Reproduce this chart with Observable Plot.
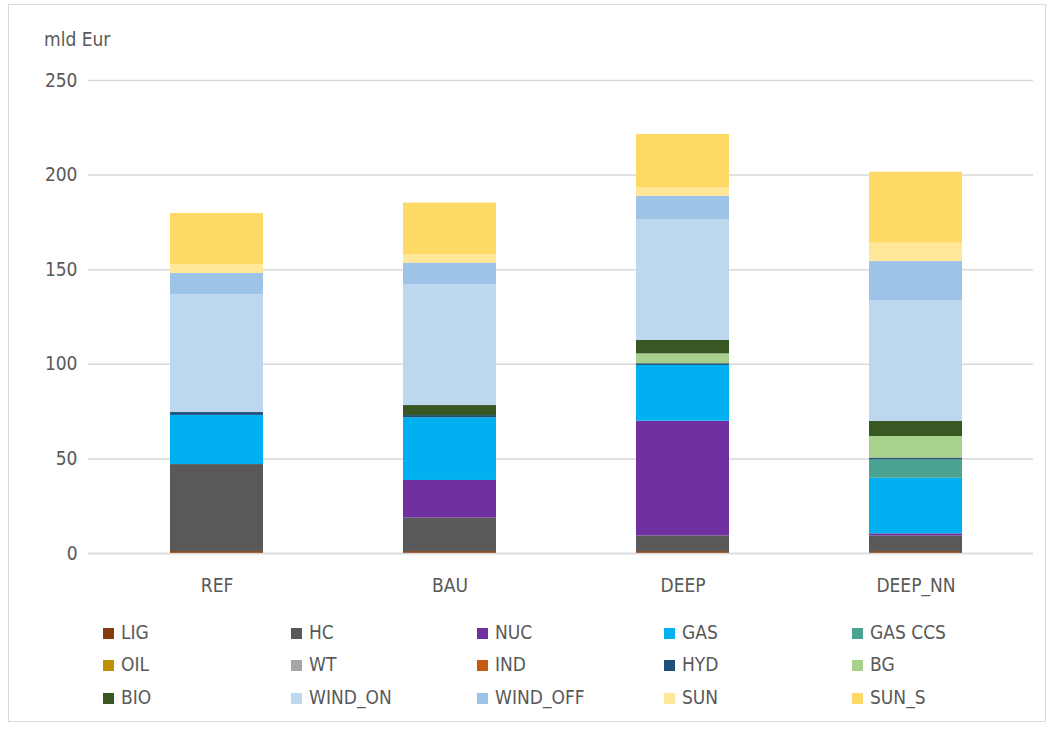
<!DOCTYPE html>
<html><head><meta charset="utf-8">
<script src="https://cdn.jsdelivr.net/npm/d3@7"></script>
<script src="https://cdn.jsdelivr.net/npm/@observablehq/plot@0.6"></script>
<style>
body{margin:0;background:#fff;font-family:"Liberation Sans Narrow","DejaVu Sans Condensed",sans-serif;}
#frame{position:absolute;left:8px;top:4px;width:1038px;height:718px;border:1px solid #d9d9d9;box-sizing:border-box;}
#chart{position:absolute;left:0;top:0;}
#unit{position:absolute;left:44px;top:28px;font-size:19px;color:#595959;}
.leg{position:absolute;font-size:19px;color:#595959;line-height:20px;white-space:nowrap;}
.leg span{display:inline-block;width:11px;height:11px;margin-right:7px;vertical-align:0px;}
</style></head>
<body>
<div id="frame"></div>
<div id="chart"></div>
<div id="unit">mld Eur</div>
<div id="legend"></div>
<script>
const scenarios = ["REF", "BAU", "DEEP", "DEEP_NN"];
const categories = ["LIG","HC","NUC","GAS","GAS CCS","OIL","WT","IND","HYD","BG","BIO","WIND_ON","WIND_OFF","SUN","SUN_S"];
const colors = ["#843C0C","#595959","#7030A0","#00B0F0","#4AA391","#BF9000","#A5A5A5","#C55A11","#1F4E79","#A9D18E","#385723","#BDD7EE","#9DC3E6","#FFE699","#FFD966"];
// values per category, in scenario order
const LIG      = [1.0, 1.0, 1.0, 1.0];
const HC       = [46.0, 17.7, 8.3, 8.3];
const NUC      = [0, 19.9, 60.6, 1.1];
const GAS      = [26.0, 33.1, 29.5, 29.4];
const GAS_CCS  = [0, 0, 0, 9.7];
const OIL      = [0, 0, 0, 0];
const WT       = [0, 0, 0, 0];
const IND      = [0, 0, 0, 0];
const HYD      = [1.5, 1.2, 0.9, 0.9];
const BG       = [0, 0, 5.2, 11.4];
const BIO      = [0, 5.3, 7.1, 8.0];
const WIND_ON  = [62.2, 64.0, 63.9, 63.9];
const WIND_OFF = [11.3, 11.2, 12.3, 20.6];
const SUN      = [4.5, 4.6, 4.4, 9.7];
const SUN_S    = [27.2, 27.2, 28.3, 37.5];
const yTicks = [0, 50, 100, 150, 200, 250];

const series = [LIG, HC, NUC, GAS, GAS_CCS, OIL, WT, IND, HYD, BG, BIO, WIND_ON, WIND_OFF, SUN, SUN_S];
const data = [];
categories.forEach((c, i) => scenarios.forEach((s, j) => data.push({scenario: s, category: c, value: series[i][j]})));

const plot = Plot.plot({
  width: 1048, height: 610,
  marginTop: 80, marginBottom: 57, marginLeft: 88, marginRight: 15,
  style: {fontFamily: "'Liberation Sans Narrow','DejaVu Sans Condensed',sans-serif", fontSize: "19px", color: "#595959", background: "transparent"},
  x: {domain: scenarios, range: [99, 1033], paddingInner: 0.6, paddingOuter: 0.3, label: null, tickSize: 0, tickPadding: 25},
  y: {domain: [0, 250], ticks: yTicks, label: null, tickSize: 0, tickPadding: 11},
  color: {domain: categories, range: colors},
  marks: [
    Plot.gridY(yTicks, {stroke: "#d9d9d9", strokeOpacity: 1, strokeWidth: 1.5}),
    Plot.barY(data, {x: "scenario", y: "value", fill: "category", order: categories}),
    Plot.ruleY([0], {stroke: "#d9d9d9", strokeWidth: 1.5})
  ]
});
document.getElementById("chart").appendChild(plot);

const legend = document.getElementById("legend");
const colX = [103, 291, 477, 664, 852];
const rowY = [622, 654, 687];
categories.forEach((c, i) => {
  const d = document.createElement("div");
  d.className = "leg";
  d.style.left = colX[i % 5] + "px";
  d.style.top = rowY[Math.floor(i / 5)] + "px";
  d.innerHTML = `<span style="background:${colors[i]}"></span>${c}`;
  legend.appendChild(d);
});
</script>
</body></html>
